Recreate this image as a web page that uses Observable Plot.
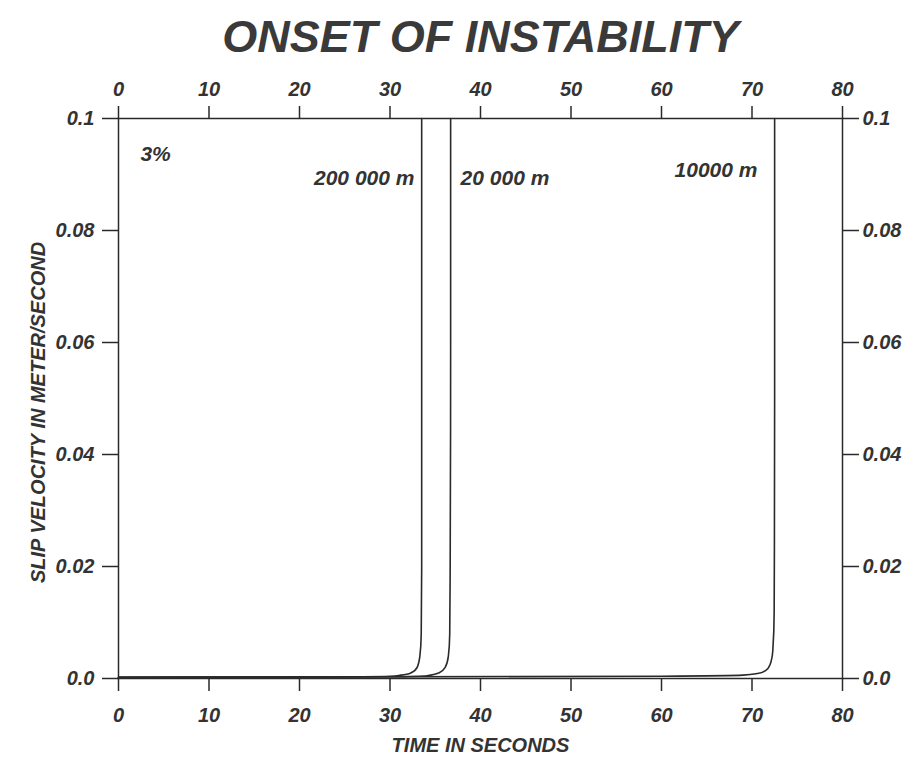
<!DOCTYPE html>
<html>
<head>
<meta charset="utf-8">
<script src="https://cdn.jsdelivr.net/npm/d3@7"></script>
<script src="https://cdn.jsdelivr.net/npm/@observablehq/plot@0.6"></script>
<style>
  html, body { margin: 0; padding: 0; background: #fff; }
</style>
</head>
<body>
<div id="chart"></div>
<script>
// ---- data ----
const titleText = "ONSET OF INSTABILITY";
const xLabel = "TIME IN SECONDS";
const yLabel = "SLIP VELOCITY IN METER/SECOND";
const xTicks = [0, 10, 20, 30, 40, 50, 60, 70, 80];
const yTicks = [0, 0.02, 0.04, 0.06, 0.08, 0.1];
const yTickLabels = ["0.0", "0.02", "0.04", "0.06", "0.08", "0.1"];

const series = ["200 000 m", "20 000 m", "10000 m"];
const t200k = [0, 25, 30, 31.2, 32.3, 33.0, 33.3, 33.45, 33.5, 33.5, 33.5];
const v200k = [0.0002, 0.0003, 0.0004, 0.0006, 0.001, 0.002, 0.004, 0.008, 0.02, 0.06, 0.1];
const t20k = [0, 30, 34.1, 35.4, 36.1, 36.45, 36.6, 36.65, 36.7, 36.7];
const v20k = [0.0002, 0.0003, 0.0005, 0.001, 0.002, 0.004, 0.008, 0.02, 0.06, 0.1];
const t10k = [0, 60, 69, 70.6, 71.5, 72.0, 72.3, 72.45, 72.5, 72.5];
const v10k = [0.0002, 0.0004, 0.0006, 0.0009, 0.0014, 0.0025, 0.005, 0.012, 0.05, 0.1];

const annoText = ["3%", "200 000 m", "20 000 m", "10000 m"];
const annoT = [4.1, 32.7, 37.8, 70.6];
const annoV = [0.0937, 0.0893, 0.0893, 0.0907];
const annoAnchor = ["middle", "end", "start", "end"];

// ---- build tables ----
const curves = [
  ...t200k.map((t, i) => ({ series: series[0], t, v: v200k[i] })),
  ...t20k.map((t, i) => ({ series: series[1], t, v: v20k[i] })),
  ...t10k.map((t, i) => ({ series: series[2], t, v: v10k[i] }))
];
const annos = annoText.map((text, i) => ({ text, t: annoT[i], v: annoV[i], anchor: annoAnchor[i] }));
const yFmt = d => yTickLabels[yTicks.indexOf(d)] ?? d;

const ink = "#2a2a2a";
const textInk = "#333";

const annoMarks = ["start", "middle", "end"].map(a =>
  Plot.text(annos.filter(d => d.anchor === a), { x: "t", y: "v", text: "text", textAnchor: a, fontSize: 21, fill: textInk })
);

const chart = Plot.plot({
  width: 906,
  height: 757,
  marginLeft: 118,
  marginRight: 64,
  marginTop: 118,
  marginBottom: 79,
  style: {
    fontFamily: "'Liberation Sans', Arial, Helvetica, sans-serif",
    fontWeight: "bold",
    fontStyle: "italic",
    fontSize: "20px",
    color: textInk,
    background: "#fff"
  },
  x: { domain: [0, 80] },
  y: { domain: [0, 0.1] },
  marks: [
    Plot.frame({ stroke: ink, strokeWidth: 1.5 }),
    Plot.axisX({ anchor: "bottom", ticks: xTicks, tickSize: 13, tickPadding: 16, label: null, stroke: ink, strokeWidth: 1.5, fill: textInk, fontSize: 20 }),
    Plot.axisX({ anchor: "top", ticks: xTicks, tickSize: 13, tickPadding: 10, label: null, stroke: ink, strokeWidth: 1.5, fill: textInk, fontSize: 20 }),
    Plot.axisY({ anchor: "left", ticks: yTicks, tickFormat: yFmt, tickSize: 16, tickPadding: 8, label: null, stroke: ink, strokeWidth: 1.5, fill: textInk, fontSize: 20 }),
    Plot.axisY({ anchor: "right", ticks: yTicks, tickFormat: yFmt, tickSize: 16, tickPadding: 4, label: null, stroke: ink, strokeWidth: 1.5, fill: textInk, fontSize: 20 }),
    Plot.line(curves, { x: "t", y: "v", z: "series", stroke: ink, strokeWidth: 1.6, curve: "monotone-y" }),
    ...annoMarks,
    Plot.text([titleText], { frameAnchor: "top", lineAnchor: "middle", dy: -81, fontSize: 45, fill: "#3a3a3a", fontStyle: "italic", fontWeight: "bold" }),
    Plot.text([xLabel], { frameAnchor: "bottom", lineAnchor: "middle", dy: 67, fontSize: 20, fill: textInk }),
    Plot.text([yLabel], { frameAnchor: "left", textAnchor: "middle", dx: -80, dy: 14, rotate: -90, fontSize: 20, fill: textInk })
  ]
});
document.getElementById("chart").append(chart);
</script>
</body>
</html>
